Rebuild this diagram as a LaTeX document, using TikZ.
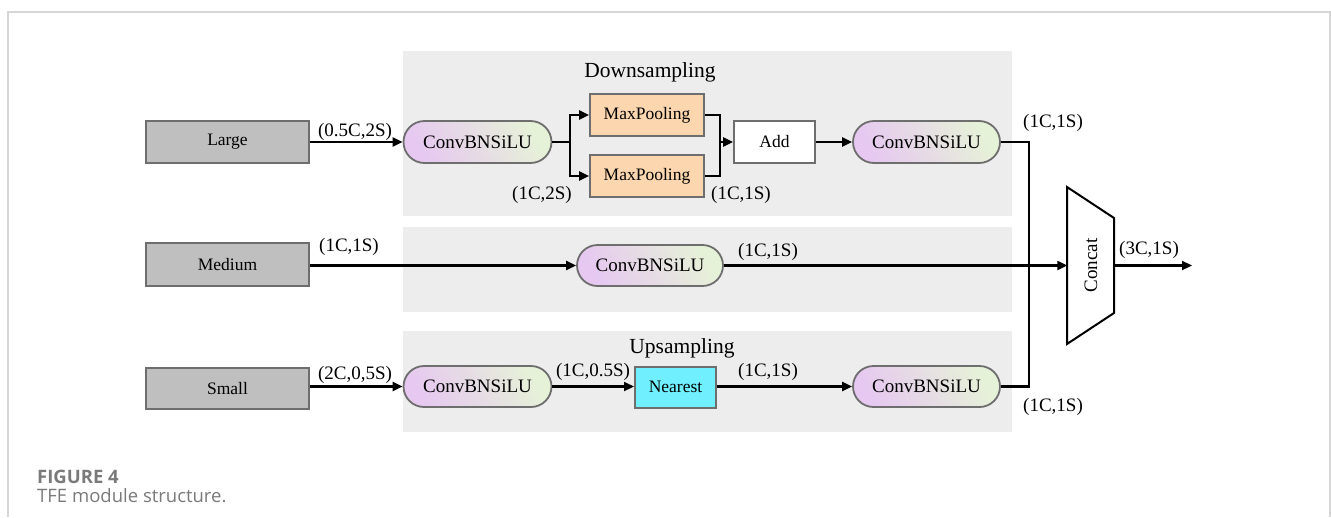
\documentclass[tikz,border=0pt]{standalone}
\usepackage{fontspec}
\setmainfont{Liberation Serif}
\newfontfamily\capfont{Open Sans}
\usetikzlibrary{arrows.meta,shapes.misc}
\definecolor{panelgray}{HTML}{EDEDED}
\definecolor{boxgray}{HTML}{BFBFBF}
\definecolor{edgegray}{HTML}{6E6E6E}
\definecolor{lav}{HTML}{E6C8F0}
\definecolor{lgreen}{HTML}{E6F2D8}
\definecolor{peach}{HTML}{FCD6AE}
\definecolor{cyanbox}{HTML}{70F0FF}
\definecolor{framegray}{HTML}{D6D6D6}
\definecolor{capgray}{HTML}{7A7A7A}
\tikzset{
  inbox/.style={draw=edgegray, line width=2pt, fill=boxgray, minimum width=163pt, minimum height=42pt, inner sep=0pt, font=\fontsize{17.5}{20}\selectfont},
  convbox/.style={rounded rectangle, draw=edgegray, line width=1.8pt, left color=lav, right color=lgreen, shading angle=120, minimum width=148pt, minimum height=42pt, inner sep=0pt, font=\fontsize{19}{22}\selectfont},
  poolbox/.style={draw=edgegray, line width=1.8pt, fill=peach, minimum width=114pt, minimum height=42pt, inner sep=0pt, font=\fontsize{17.5}{20}\selectfont},
  addbox/.style={draw=edgegray, line width=1.8pt, fill=white, minimum width=81pt, minimum height=42pt, inner sep=0pt, font=\fontsize{17.5}{20}\selectfont},
  nearbox/.style={draw=edgegray, line width=2pt, fill=cyanbox, minimum width=81pt, minimum height=41pt, inner sep=0pt, font=\fontsize{17.5}{20}\selectfont},
  lbl/.style={inner sep=0pt, font=\fontsize{19}{22}\selectfont},
  ttl/.style={inner sep=0pt, font=\fontsize{21.5}{24}\selectfont},
  wire/.style={line width=2.2pt, black},
  arr/.style={line width=2.2pt, black, -{Triangle[length=10pt,width=9pt]}},
  panel/.style={fill=panelgray, draw=none},
}
\begin{document}
\begin{tikzpicture}[x=1pt,y=-1pt]
\useasboundingbox (0,0) rectangle (1331,517);
\fill[white] (0,0) rectangle (1331,517);
% frame
\draw[framegray, line width=1.6pt] (8,517) -- (8,12) -- (1330,12) -- (1330,517);
% panels
\fill[panel] (403,51) rectangle (1012,216);
\fill[panel] (403,227) rectangle (1012,312);
\fill[panel] (403,331) rectangle (1012,432);
% inputs
\node[inbox] (large) at (227.5,142) {Large};
\node[inbox, minimum height=43pt] (medium) at (227.5,264.5) {Medium};
\node[inbox, minimum height=41pt] (small) at (227.5,388.5) {Small};
% top row
\node[convbox] (conv1) at (477.5,142) {ConvBNSiLU};
\node[poolbox] (mp1) at (647,115) {MaxPooling};
\node[poolbox] (mp2) at (647,176) {MaxPooling};
\node[addbox] (add) at (774.5,142) {Add};
\node[convbox, minimum width=147pt] (conv2) at (926.5,142) {ConvBNSiLU};
% middle row
\node[convbox, minimum width=146pt, minimum height=41pt] (convm) at (650,265.5) {ConvBNSiLU};
% bottom row
\node[convbox, minimum height=41pt] (conv3) at (477.5,386.5) {ConvBNSiLU};
\node[nearbox] (near) at (675.5,387) {Nearest};
\node[convbox, minimum width=147pt, minimum height=41pt] (conv4) at (926.5,386.5) {ConvBNSiLU};
% concat
\draw[black, line width=2pt, line join=miter] (1067,187) -- (1114,218) -- (1114,313) -- (1067,344) -- cycle;
\node[inner sep=0pt, minimum width=47pt, minimum height=157pt, font=\fontsize{19}{22}\selectfont] (concat) at (1091,265.5) {\rotatebox{90}{Concat}};
\coordinate (out) at (1192,265.5);
% coordinates
\coordinate (sp) at (570,142);
\coordinate (mg) at (720,142);
\coordinate (vx) at (1029,142);
% connectors
\draw[arr] (large.east) -- (conv1.west);
\draw[wire] (conv1.east) -- (sp);
\draw[arr] (sp) |- (mp1.west);
\draw[arr] (sp) |- (mp2.west);
\draw[wire] (mp1.east) -| (mg);
\draw[wire] (mp2.east) -| (mg);
\draw[arr] (mg) -- (add.west);
\draw[arr] (add.east) -- (conv2.west);
\draw[wire] (conv2.east) -- (vx) |- (conv4.east);
\draw[arr] (medium.east |- 0,265.5) -- (convm.west);
\draw[arr] (convm.east) -- (concat.west);
\draw[arr] (small.east |- 0,386.5) -- (conv3.west);
\draw[arr] (conv3.east) -- (near.west |- 0,386.5);
\draw[arr] (near.east |- 0,386.5) -- (conv4.west);
\draw[arr] (concat.east) -- (out);
% labels
\node[ttl] (tdown) at (650,72) {Downsampling};
\node[ttl] (tup) at (682,348) {Upsampling};
\node[lbl] (l1) at (355,132) {(0.5C,2S)};
\node[lbl] (l2) at (349,247) {(1C,1S)};
\node[lbl] (l3) at (355,375) {(2C,0,5S)};
\node[lbl] (l4) at (542,195) {(1C,2S)};
\node[lbl] (l5) at (741,195) {(1C,1S)};
\node[lbl] (l6) at (1053,123) {(1C,1S)};
\node[lbl] (l7) at (768,252) {(1C,1S)};
\node[lbl] (l8) at (593,372) {(1C,0.5S)};
\node[lbl] (l9) at (768,372) {(1C,1S)};
\node[lbl] (l10) at (1053,407) {(1C,1S)};
\node[lbl] (l11) at (1149,250) {(3C,1S)};
% caption
\node[anchor=base west, inner sep=0pt, text=capgray, font=\capfont\bfseries\fontsize{18.5}{20}\selectfont] (fig) at (37,483) {FIGURE 4};
\node[anchor=base west, inner sep=0pt, text=capgray, font=\capfont\fontsize{18.5}{20}\selectfont] (cap) at (37,502) {TFE module structure.};
\end{tikzpicture}
\end{document}
